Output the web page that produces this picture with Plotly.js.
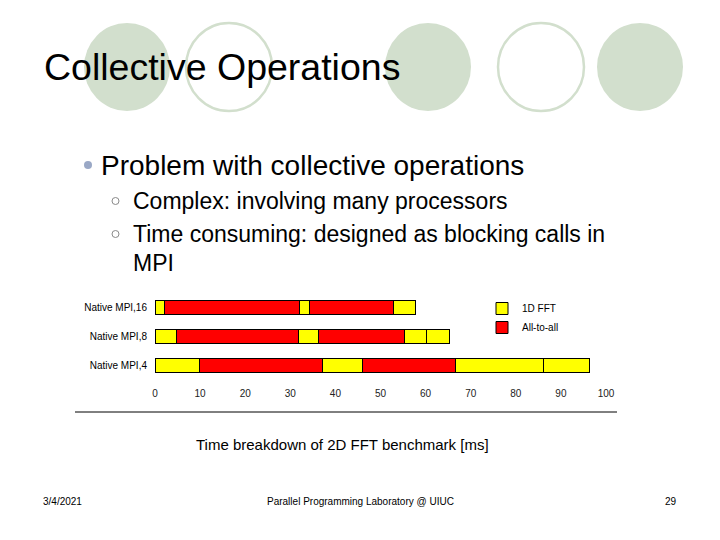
<!DOCTYPE html>
<html>
<head>
<meta charset="utf-8">
<script src="https://cdn.plot.ly/plotly-3.0.1.min.js"></script>
<style>
  html, body { margin: 0; padding: 0; background: #fff; }
  #chart { width: 720px; height: 540px; }
</style>
</head>
<body>
<div id="chart"></div>
<script>
// rows, bottom to top
let rows = ['Native MPI,4', 'Native MPI,8', 'Native MPI,16'];

// time of each phase [ms], in the order they happen
let fft1 = [9.9, 4.8, 2.2];
let a2a1 = [27.3, 27.1, 29.9];
let fft2 = [8.8, 4.4, 2.2];
let a2a2 = [20.7, 19.1, 18.6];
let fft3 = [19.4, 4.9, 4.9];
let fft4 = [10.3, 4.9, null];

let xTicks = [0, 10, 20, 30, 40, 50, 60, 70, 80, 90, 100];

let yellow = '#ffff00';
let red = '#ff0000';
let font = 'Liberation Sans, Arial, sans-serif';

// pixel -> paper
function px(x) { return x / 720; }
function py(y) { return 1 - y / 540; }

function seg(vals, name, color, show) {
  return {
    type: 'bar',
    orientation: 'h',
    y: rows,
    x: vals,
    name: name,
    legendgroup: name,
    showlegend: show,
    marker: { color: color, line: { color: '#000', width: 1 } },
    hoverinfo: 'x+y+name'
  };
}

let data = [
  seg(fft1, '1D FFT', yellow, true),
  seg(a2a1, 'All-to-all', red, true),
  seg(fft2, '1D FFT', yellow, false),
  seg(a2a2, 'All-to-all', red, false),
  seg(fft3, '1D FFT', yellow, false),
  seg(fft4, '1D FFT', yellow, false)
];

// decorative circles behind the title
let circles = [
  { cx: 127, fill: true },
  { cx: 229, fill: false },
  { cx: 428, fill: true },
  { cx: 541, fill: false },
  { cx: 640, fill: true }
];
let green = '#d2dfcd';

let shapes = circles.map(function (c) {
  return {
    type: 'circle', xref: 'paper', yref: 'paper', layer: 'below',
    x0: px(c.cx - 43), x1: px(c.cx + 43),
    y0: py(23), y1: py(111),
    fillcolor: c.fill ? green : 'rgba(0,0,0,0)',
    line: { color: green, width: c.fill ? 0 : 2.5 }
  };
});

// bullets
shapes.push({
  type: 'circle', xref: 'paper', yref: 'paper',
  x0: px(84), x1: px(92), y0: py(161), y1: py(169),
  fillcolor: '#9aa8c6', line: { width: 0 }
});
[201, 234].forEach(function (y) {
  shapes.push({
    type: 'circle', xref: 'paper', yref: 'paper',
    x0: px(112), x1: px(119), y0: py(y - 3.5), y1: py(y + 3.5),
    fillcolor: 'rgba(0,0,0,0)', line: { color: '#8a8a8a', width: 1 }
  });
});

// rule under the chart
shapes.push({
  type: 'line', xref: 'paper', yref: 'paper',
  x0: px(75), x1: px(617), y0: py(412), y1: py(412),
  line: { color: '#000', width: 1 }
});

function txt(text, x, y, size, anchor) {
  return {
    text: text, xref: 'paper', yref: 'paper',
    x: px(x), y: py(y), xanchor: anchor || 'left', yanchor: 'middle',
    showarrow: false, font: { family: font, size: size, color: '#000' }
  };
}

let annotations = [
  txt('Collective Operations', 42, 67, 37.5),
  txt('Problem with collective operations', 99, 165, 28),
  txt('Complex: involving many processors', 131, 201, 23),
  txt('Time consuming: designed as blocking calls in', 131, 234, 23),
  txt('MPI', 131, 263, 23),
  txt('Time breakdown of 2D FFT benchmark [ms]', 342, 444, 15, 'center'),
  txt('3/4/2021', 41, 501, 10),
  txt('Parallel Programming Laboratory @ UIUC', 360, 501, 10, 'center'),
  txt('29', 671, 501, 10, 'center')
];

let layout = {
  width: 720,
  height: 540,
  margin: { l: 0, r: 0, t: 0, b: 0 },
  paper_bgcolor: '#fff',
  plot_bgcolor: '#fff',
  barmode: 'stack',
  bargap: 0.55,
  font: { family: font, size: 10, color: '#000' },
  xaxis: {
    domain: [px(155), px(606)],
    range: [0, 100],
    tickvals: xTicks,
    showgrid: false,
    zeroline: false,
    showline: false,
    ticks: '',
    tickfont: { size: 10, color: '#222' },
    ticklabelstandoff: 6
  },
  yaxis: {
    domain: [py(380), py(293)],
    categoryorder: 'array',
    categoryarray: rows,
    showgrid: false,
    zeroline: false,
    showline: false,
    ticks: '',
    tickfont: { size: 10, color: '#000' },
    ticklabelstandoff: 7
  },
  legend: {
    x: px(482), y: py(294), xanchor: 'left', yanchor: 'top',
    bgcolor: 'rgba(0,0,0,0)',
    font: { size: 10, color: '#000' },
    tracegroupgap: 0,
    itemwidth: 30
  },
  shapes: shapes,
  annotations: annotations
};

Plotly.newPlot('chart', data, layout, { displayModeBar: false, staticPlot: true });
</script>
</body>
</html>
